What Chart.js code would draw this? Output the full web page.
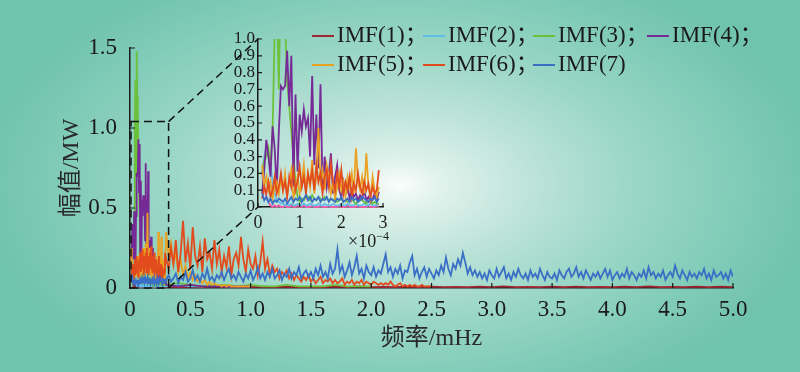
<!DOCTYPE html>
<html>
<head>
<meta charset="utf-8">
<script src="https://cdn.jsdelivr.net/npm/chart.js@4/dist/chart.umd.min.js"></script>
<style>
  html, body { margin: 0; padding: 0; }
  #wrap {
    position: relative; width: 800px; height: 372px; overflow: hidden;
    background: radial-gradient(ellipse 420px 240px at 400px 185px,
      #fafdfc 0%, #e0f2ec 10%, #bfe4da 30%, #9cd7c7 55%, #81ccb8 80%, #70c3ad 100%);
  }
  #main { position: absolute; left: 0; top: 0; }
  #inset { position: absolute; left: 200px; top: 20px; }
  #legend {
    position: absolute; left: 312px; top: 20px;
    font-family: 'Liberation Serif', 'Noto Sans CJK SC', serif;
    font-size: 23px; color: #1a1a1a; line-height: 29px; white-space: nowrap;
    display: grid; grid-template-columns: 111px 110px 114px auto;
  }
  #legend .sw { display: inline-block; width: 22px; height: 2px; vertical-align: middle; margin-right: 3px; position: relative; top: -1px; }
  #unit {
    position: absolute; left: 348px; top: 229px;
    font-family: 'Liberation Serif', serif; font-size: 18px; color: #1a1a1a;
  }
  #unit sup { font-size: 12px; }
</style>
</head>
<body>
<div id="wrap">
  <canvas id="main" width="800" height="372"></canvas>
  <canvas id="inset" width="200" height="240"></canvas>
  <div id="legend"></div>
  <div id="unit">×10<sup>−4</sup></div>
</div>
<script>
// series names and colours
const names = ['IMF(1)', 'IMF(2)', 'IMF(3)', 'IMF(4)', 'IMF(5)', 'IMF(6)', 'IMF(7)'];
const colors = ['#9e2630', '#5fbde6', '#6cc13b', '#762a96', '#e9a224', '#e24b1d', '#3b6fc6'];
const insetColors = ['#ef5aa8', '#5fbde6', '#6cc13b', '#762a96', '#e9a224', '#e24b1d', '#3b6fc6'];

// low band: 0.010 .. 0.290 mHz (inset range), step 0.005 mHz
const lowStart = 0.01, lowStep = 0.005;
// high band: from 0.30 mHz
const highStart = 0.30;
const highSteps = [0.1, 0.1, 0.1, 0.1, 0.02, 0.02, 0.02];

const imf1Low = [0.20,0.12,0.06,0.03,0.01,0.00,0.01,0.00,0.01,0.00,
  0.00,0.01,0.00,0.00,0.01,0.00,0.00,0.01,0.00,0.00,
  0.01,0.00,0.00,0.00,0.01,0.00,0.00,0.00,0.01,0.00,
  0.00,0.00,0.01,0.00,0.00,0.00,0.00,0.01,0.00,0.00,
  0.00,0.01,0.00,0.00,0.00,0.00,0.01,0.00,0.00,0.00,
  0.00,0.01,0.00,0.00,0.00,0.01,0.00];
const imf2Low = [0.20,0.30,0.36,0.33,0.25,0.15,0.08,0.04,0.03,0.02,
  0.02,0.01,0.02,0.01,0.02,0.01,0.01,0.02,0.01,0.01,
  0.02,0.01,0.01,0.02,0.01,0.01,0.01,0.02,0.01,0.01,
  0.02,0.01,0.01,0.01,0.02,0.01,0.01,0.01,0.02,0.01,
  0.01,0.02,0.01,0.01,0.01,0.02,0.01,0.01,0.01,0.02,
  0.01,0.01,0.02,0.01,0.01,0.01,0.02];
const imf3Low = [0.20,0.28,0.30,0.35,0.22,0.45,1.05,1.30,0.70,1.48,
  1.20,1.10,0.75,0.60,0.45,0.30,0.15,0.06,0.03,0.05,
  0.04,0.07,0.06,0.04,0.07,0.05,0.04,0.06,0.05,0.04,
  0.06,0.05,0.04,0.05,0.04,0.05,0.03,0.04,0.05,0.03,
  0.04,0.03,0.04,0.05,0.03,0.02,0.04,0.05,0.04,0.03,
  0.02,0.03,0.04,0.02,0.03,0.02,0.02];
const imf4Low = [0.08,0.22,0.40,0.30,0.18,0.48,0.35,0.10,0.45,0.72,
  0.70,0.72,0.93,0.60,0.90,0.12,0.67,0.21,0.55,0.45,
  0.58,0.48,0.53,0.30,0.78,0.25,0.55,0.23,0.73,0.10,
  0.30,0.12,0.20,0.32,0.08,0.18,0.25,0.10,0.06,0.15,
  0.08,0.12,0.05,0.10,0.06,0.08,0.04,0.07,0.05,0.10,
  0.04,0.06,0.03,0.05,0.08,0.04,0.09];
const imf5Low = [0.25,0.12,0.18,0.10,0.15,0.05,0.12,0.15,0.08,0.18,
  0.10,0.20,0.07,0.15,0.22,0.05,0.12,0.18,0.08,0.15,
  0.25,0.10,0.20,0.12,0.28,0.08,0.18,0.47,0.15,0.22,
  0.10,0.25,0.18,0.08,0.15,0.05,0.12,0.20,0.10,0.15,
  0.06,0.18,0.12,0.20,0.08,0.35,0.15,0.10,0.18,0.08,
  0.32,0.12,0.05,0.18,0.10,0.06,0.12];
const imf6Low = [0.05,0.12,0.08,0.15,0.06,0.10,0.18,0.08,0.12,0.20,
  0.10,0.15,0.06,0.18,0.12,0.22,0.10,0.15,0.24,0.12,
  0.18,0.08,0.20,0.14,0.22,0.10,0.25,0.15,0.20,0.08,
  0.18,0.22,0.12,0.26,0.15,0.10,0.20,0.12,0.22,0.08,
  0.15,0.10,0.18,0.06,0.14,0.10,0.20,0.12,0.08,0.15,
  0.10,0.14,0.06,0.12,0.08,0.10,0.22];
const imf7Low = [0.08,0.04,0.06,0.03,0.05,0.02,0.04,0.03,0.05,0.04,
  0.03,0.05,0.02,0.04,0.06,0.03,0.05,0.04,0.06,0.03,
  0.05,0.07,0.04,0.06,0.03,0.05,0.04,0.06,0.03,0.05,
  0.04,0.06,0.03,0.05,0.04,0.03,0.05,0.04,0.06,0.03,
  0.04,0.05,0.03,0.06,0.04,0.05,0.03,0.04,0.06,0.05,
  0.04,0.03,0.05,0.04,0.06,0.03,0.05];

const imf1High = [0.010,0.005,0.008,0.006,0.010,0.005,0.007,0.006,0.008,0.005,
  0.009,0.006,0.007,0.005,0.008,0.006,0.010,0.005,0.007,0.006,
  0.008,0.005,0.009,0.006,0.007,0.005,0.008,0.006,0.010,0.005,
  0.007,0.006,0.008,0.005,0.009,0.006,0.007,0.005,0.008,0.006,
  0.010,0.005,0.007,0.006,0.008,0.005,0.009,0.006];
const imf2High = [0.01,0.02,0.01,0.01,0.02,0.01,0.01,0.01];
const imf3High = [0.02,0.03,0.02,0.01,0.02,0.02,0.01,0.02,0.01,0.01,
  0.02,0.01,0.01,0.01,0.02,0.01,0.01,0.01];
const imf4High = [0.02,0.01,0.02,0.01,0.01,0.01,0.01,0.01];
const imf5High = [0.35,0.20,0.28,0.15,0.22,0.10,0.18,0.08,0.14,0.06,
  0.10,0.05,0.08,0.04,0.06,0.03,0.05,0.02,0.04,0.02,
  0.03,0.02,0.02,0.01,0.02,0.01,0.02,0.01,0.01,0.01,
  0.01,0.01,0.01,0.01,0.01,0.01];
const imf6High = [0.18,0.12,0.25,0.15,0.30,0.10,0.22,0.42,0.16,0.28,
  0.12,0.38,0.20,0.14,0.26,0.10,0.31,0.18,0.22,0.12,
  0.30,0.15,0.24,0.10,0.20,0.13,0.26,0.08,0.18,0.22,
  0.14,0.32,0.18,0.10,0.24,0.15,0.12,0.20,0.08,0.16,
  0.29,0.12,0.18,0.08,0.14,0.10,0.12,0.06,0.10,0.08,
  0.11,0.06,0.09,0.05,0.08,0.06,0.04,0.07,0.05,0.08,
  0.04,0.06,0.03,0.05,0.07,0.03,0.05,0.04,0.06,0.03,
  0.05,0.03,0.04,0.06,0.02,0.04,0.03,0.05,0.02,0.04,
  0.03,0.05,0.02,0.04,0.03,0.02,0.04,0.03,0.02,0.03,
  0.02,0.03,0.02,0.04,0.02,0.01,0.02,0.03,0.01,0.02,
  0.01,0.02,0.01,0.02,0.01,0.01,0.02,0.01,0.01,0.01,
  0.01];
const imf7High = [0.05,0.08,0.04,0.06,0.09,0.03,0.07,0.05,0.10,0.04,
  0.06,0.11,0.05,0.08,0.04,0.09,0.06,0.12,0.05,0.07,
  0.04,0.08,0.06,0.10,0.05,0.09,0.12,0.06,0.08,0.05,
  0.10,0.07,0.04,0.09,0.06,0.11,0.05,0.08,0.13,0.06,
  0.09,0.05,0.10,0.07,0.12,0.06,0.08,0.11,0.05,0.09,
  0.07,0.12,0.06,0.10,0.08,0.13,0.06,0.09,0.11,0.07,
  0.10,0.06,0.12,0.08,0.14,0.07,0.10,0.06,0.15,0.09,
  0.12,0.24,0.10,0.14,0.07,0.11,0.16,0.08,0.13,0.20,
  0.09,0.12,0.06,0.14,0.10,0.08,0.13,0.07,0.11,0.09,
  0.15,0.21,0.10,0.13,0.07,0.12,0.09,0.14,0.06,0.11,
  0.10,0.16,0.20,0.08,0.12,0.06,0.10,0.13,0.07,0.12,
  0.09,0.06,0.11,0.08,0.14,0.10,0.19,0.12,0.08,0.15,
  0.12,0.18,0.14,0.22,0.16,0.09,0.13,0.08,0.11,0.07,
  0.10,0.06,0.09,0.05,0.11,0.08,0.06,0.12,0.07,0.10,
  0.13,0.06,0.09,0.05,0.10,0.07,0.12,0.08,0.06,0.09,
  0.05,0.11,0.07,0.09,0.06,0.12,0.08,0.05,0.10,0.07,
  0.06,0.09,0.05,0.11,0.08,0.06,0.10,0.12,0.07,0.09,
  0.13,0.07,0.10,0.06,0.11,0.08,0.05,0.09,0.07,0.10,
  0.06,0.09,0.12,0.07,0.11,0.05,0.08,0.10,0.06,0.09,
  0.07,0.12,0.06,0.10,0.08,0.05,0.09,0.07,0.11,0.06,
  0.13,0.08,0.10,0.06,0.09,0.07,0.11,0.05,0.08,0.10,
  0.07,0.14,0.09,0.06,0.11,0.08,0.05,0.10,0.07,0.09,
  0.06,0.10,0.08,0.12,0.06,0.09,0.05,0.11,0.07,0.08,
  0.10,0.06,0.09,0.05,0.11,0.07];

const lows = [imf1Low, imf2Low, imf3Low, imf4Low, imf5Low, imf6Low, imf7Low];
const highs = [imf1High, imf2High, imf3High, imf4High, imf5High, imf6High, imf7High];

// zoom window marked on the main plot (mHz, MW)
const boxFreq = 0.32, boxAmp = 1.04;
const insetLeft = 200, insetTop = 20;

const FONT = "'Liberation Serif', 'Noto Sans CJK SC', serif";
const INK = '#1a1a1a';

function lowPoints(i) {
  return lows[i].map((v, k) => ({ x: lowStart + k * lowStep, y: v }));
}
function allPoints(i) {
  const pts = lowPoints(i);
  highs[i].forEach((v, k) => pts.push({ x: highStart + k * highSteps[i], y: v }));
  return pts;
}
const fmt = v => (Math.abs(v) < 1e-9 ? '0' : v.toFixed(1));

// ticks pointing into the plot
const inwardTicks = {
  id: 'inwardTicks',
  afterDraw(chart, args, opts) {
    const { ctx, chartArea: a, scales: { x, y } } = chart;
    const len = opts.len || 5;
    ctx.save();
    ctx.strokeStyle = INK;
    ctx.lineWidth = 1.2;
    ctx.beginPath();
    x.ticks.forEach(t => { const p = x.getPixelForValue(t.value); ctx.moveTo(p, a.bottom); ctx.lineTo(p, a.bottom - len); });
    y.ticks.forEach(t => { const p = y.getPixelForValue(t.value); ctx.moveTo(a.left, p); ctx.lineTo(a.left + len, p); });
    ctx.stroke();
    ctx.restore();
  }
};

function lineSets(pointsFn, cols) {
  return names.map((n, i) => ({
    label: n,
    data: pointsFn(i),
    borderColor: cols[i],
    borderWidth: 1.8,
    pointRadius: 0,
    tension: 0,
    order: 6 - i
  }));
}

function axisBorder() { return { display: true, color: INK, width: 1.5 }; }

// inset first (main plot links to it)
const insetChart = new Chart(document.getElementById('inset'), {
  type: 'line',
  data: { datasets: lineSets(lowPoints, insetColors).map(d => ({ ...d, clip: { left: 2, top: 0, right: 2, bottom: 2 } })) },
  plugins: [inwardTicks],
  options: {
    responsive: false, animation: false, events: [],
    layout: { padding: { left: 0, right: 17, top: 19, bottom: 0 } },
    plugins: { legend: { display: false }, tooltip: { enabled: false }, inwardTicks: { len: 4 } },
    scales: {
      x: {
        type: 'linear', min: 0, max: 0.3,
        afterFit: s => { s.height = 53; },
        grid: { drawOnChartArea: false, drawTicks: false },
        border: axisBorder(),
        ticks: { stepSize: 0.1, padding: 5, color: INK, font: { family: FONT, size: 18 },
          callback: v => String(Math.round(v * 10)) }
      },
      y: {
        min: 0, max: 1.0,
        afterFit: s => { s.width = 58; },
        grid: { drawOnChartArea: false, drawTicks: false },
        border: axisBorder(),
        ticks: { stepSize: 0.1, autoSkip: false, padding: 3, color: INK, font: { family: FONT, size: 17 }, callback: fmt }
      }
    }
  }
});

const zoomLink = {
  id: 'zoomLink',
  afterDatasetsDraw(chart) {
    const { ctx, scales: { x, y } } = chart;
    const x0 = x.getPixelForValue(0), x1 = x.getPixelForValue(boxFreq);
    const y0 = y.getPixelForValue(0), y1 = y.getPixelForValue(boxAmp);
    const ia = insetChart.chartArea;
    ctx.save();
    ctx.setLineDash([8, 5]);
    ctx.strokeStyle = '#111';
    ctx.lineWidth = 1.5;
    ctx.strokeRect(x0 + 1, y1, x1 - x0 - 1, y0 - y1);
    ctx.beginPath();
    ctx.moveTo(x1, y1); ctx.lineTo(insetLeft + ia.left, insetTop + ia.top);
    ctx.moveTo(x1, y0); ctx.lineTo(insetLeft + ia.left, insetTop + ia.bottom);
    ctx.stroke();
    ctx.restore();
  }
};

new Chart(document.getElementById('main'), {
  type: 'line',
  data: { datasets: lineSets(allPoints, colors) },
  plugins: [inwardTicks, zoomLink],
  options: {
    responsive: false, animation: false, events: [],
    layout: { padding: { left: 0, right: 67, top: 48, bottom: 0 } },
    plugins: { legend: { display: false }, tooltip: { enabled: false }, inwardTicks: { len: 5 } },
    scales: {
      x: {
        type: 'linear', min: 0, max: 5,
        afterFit: s => { s.height = 84; },
        grid: { drawOnChartArea: false, drawTicks: false },
        border: axisBorder(),
        ticks: { stepSize: 0.5, padding: 8, color: INK, font: { family: FONT, size: 23 }, callback: fmt },
        title: { display: true, text: '频率/mHz', color: '#2a2a2a', font: { family: FONT, size: 24 },
          padding: { top: 0, bottom: 19 } }
      },
      y: {
        min: 0, max: 1.5,
        afterFit: s => { s.width = 130; },
        grid: { drawOnChartArea: false, drawTicks: false },
        border: axisBorder(),
        ticks: { stepSize: 0.5, padding: 13, color: INK, font: { family: FONT, size: 23 }, callback: fmt },
        title: { display: true, text: '幅值/MW', color: '#2a2a2a', font: { family: FONT, size: 24 },
          padding: { top: 57, bottom: 0 } }
      }
    }
  }
});

// legend laid out like the figure: four entries, then three
const legend = document.getElementById('legend');
names.forEach((n, i) => {
  const item = document.createElement('div');
  item.innerHTML = '<span class="sw" style="background:' + colors[i] + '"></span>' + n + (i < names.length - 1 ? '；' : '');
  legend.appendChild(item);
});
</script>
</body>
</html>
